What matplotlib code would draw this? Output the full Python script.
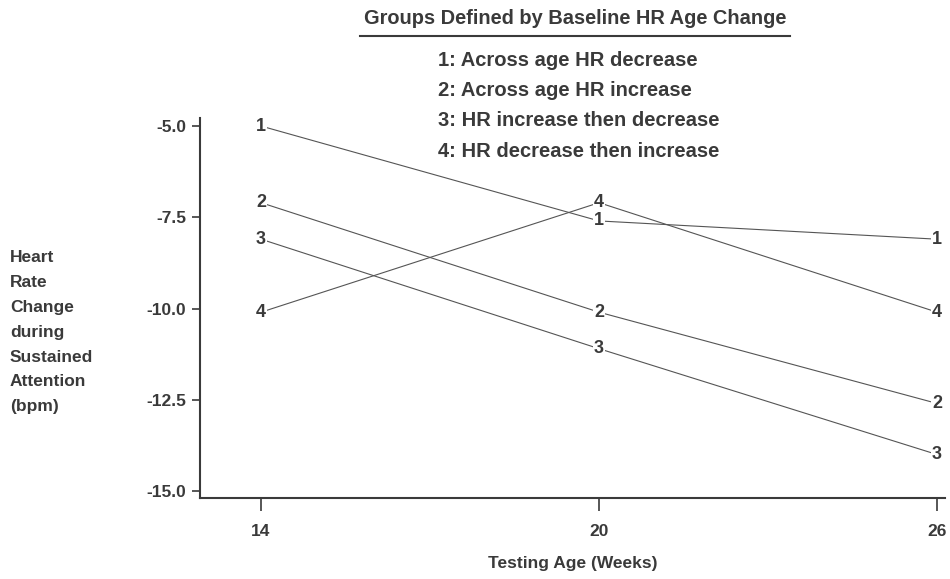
import matplotlib
matplotlib.use('Agg')
import matplotlib.pyplot as plt

# testing ages (weeks) and mean HR change per group
ages = [14, 20, 26]
group_ids = ['1', '2', '3', '4']
hr_g1 = [-5.0, -7.6, -8.1]
hr_g2 = [-7.1, -10.1, -12.6]
hr_g3 = [-8.1, -11.1, -14.0]
hr_g4 = [-10.1, -7.1, -10.1]
groups = [hr_g1, hr_g2, hr_g3, hr_g4]

legend_title = 'Groups Defined by Baseline HR Age Change'
legend_items = ['1: Across age HR decrease',
                '2: Across age HR increase',
                '3: HR increase then decrease',
                '4: HR decrease then increase']
ylabel_lines = ['Heart', 'Rate', 'Change', 'during', 'Sustained',
                'Attention', '(bpm)']
yticks = [-5.0, -7.5, -10.0, -12.5, -15.0]

ink = '#3a3a3a'
plt.rcParams['font.family'] = ['Liberation Sans', 'DejaVu Sans']

fig = plt.figure(figsize=(9.5, 5.79), dpi=100)
ax = fig.add_axes([200/950, 1 - 498/579, 745/950, 380/579])

# lines, then group number drawn at each point
for gid, vals in zip(group_ids, groups):
    ax.plot(ages, vals, color='#555555', lw=0.8, zorder=1)
    for x, y in zip(ages, vals):
        ax.text(x, y, gid, ha='center', va='center', fontsize=13,
                fontweight='bold', color=ink, zorder=3,
                bbox=dict(facecolor='white', edgecolor='none', pad=0.5))

ax.set_xlim(12.917, 26.14)
ax.set_ylim(-15.19, -4.78)
ax.set_xticks(ages)
ax.set_xticklabels([str(a) for a in ages])
ax.set_yticks(yticks)
ax.set_yticklabels(['%.1f' % t for t in yticks])

for s in ['top', 'right']:
    ax.spines[s].set_visible(False)
for s in ['left', 'bottom']:
    ax.spines[s].set_color(ink)
    ax.spines[s].set_linewidth(1.5)
ax.tick_params(axis='y', length=6, width=1.2, colors=ink, labelsize=12.5, pad=4)
ax.tick_params(axis='x', length=9, width=1.2, colors=ink, labelsize=12.5, pad=10)
for lab in ax.get_xticklabels() + ax.get_yticklabels():
    lab.set_fontweight('bold')

ax.set_xlabel('Testing Age (Weeks)', fontsize=12.5, fontweight='bold',
              color=ink, labelpad=12)

# y label as stacked words at left
for i, word in enumerate(ylabel_lines):
    fig.text(10/950, 1 - (258 + i * 24.8)/579, word, ha='left', va='center',
             fontsize=12.5, fontweight='bold', color=ink)

# legend block at top
fig.text(575/950, 1 - 18/579, legend_title, ha='center', va='center',
         fontsize=14.4, fontweight='bold', color=ink)
fig.add_artist(plt.Line2D([360/950, 790/950], [1 - 36/579, 1 - 36/579],
                          color=ink, lw=1.5))
for i, item in enumerate(legend_items):
    fig.text(438/950, 1 - (60 + i * 30.5)/579, item, ha='left', va='center',
             fontsize=14.5, fontweight='bold', color=ink)

fig.savefig('out.png', dpi=100)
